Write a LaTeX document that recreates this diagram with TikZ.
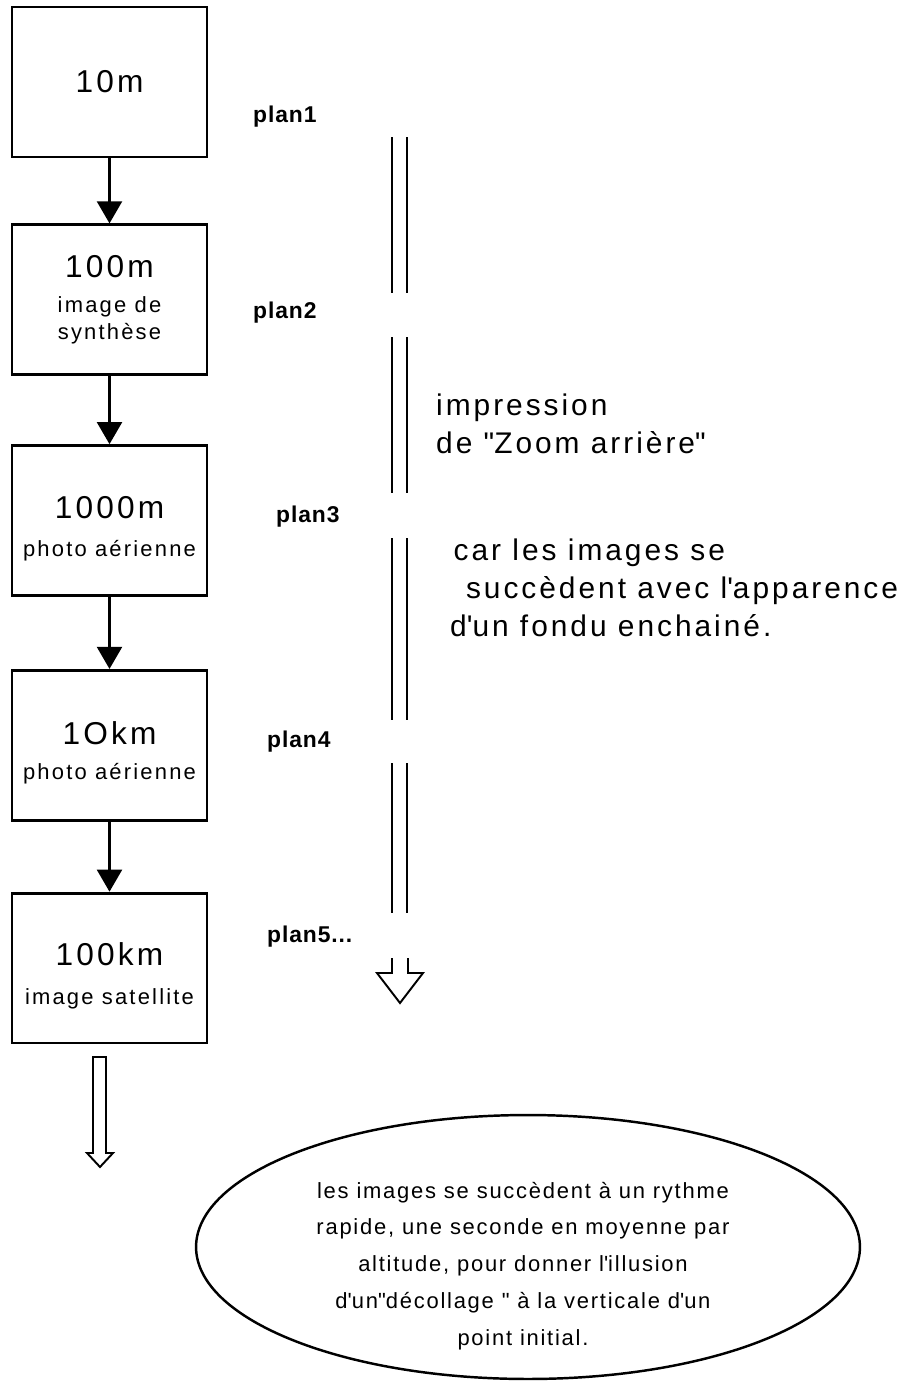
\documentclass[tikz,border=0pt]{standalone}
\usepackage{fontspec}
\setmainfont{Liberation Sans}[LetterSpace=10]
\usepackage{tikz}
\usetikzlibrary{arrows.meta,positioning,shapes.geometric}

\newcommand\altfont{\fontsize{18}{21}\selectfont}
\newcommand\legfont{\fontsize{12.5}{15}\selectfont}
\newcommand\alt[1]{{\altfont\rule{0pt}{22pt}#1}}

\begin{document}
\begin{tikzpicture}[
  x=0.02cm, y=-0.02cm,
  stage/.style={draw, line width=1.6pt, minimum width=3.9cm,
                minimum height=3cm, inner sep=0pt, align=center, font=\legfont},
  plan/.style={font=\fontsize{13}{15}\selectfont\bfseries\addfontfeature{LetterSpace=4},
               anchor=west},
  flow/.style={-{Triangle[width=0.5cm,length=0.44cm]}, line width=1.2pt},
  rail/.style={line width=1.1pt},
  hollow/.style={line width=1.1pt, line join=miter},
  remark/.style={font=\fontsize{17}{21.5}\selectfont, align=left, anchor=west},
  bubble/.style={draw, ellipse, line width=1.4pt, minimum width=13.28cm,
                 minimum height=5.28cm},
  note/.style={font=\fontsize{12.5}{21}\selectfont\addfontfeature{LetterSpace=8},
               align=center},
]
\useasboundingbox (0,0) rectangle (912,1383);

% altitude stages
\node[stage] (m10) at (109.5,82) {{\altfont 10m}};
\node[stage, below=1.3cm of m10] (m100)
  {{\altfont 100m}\\[5pt]image de\\synthèse};
\node[stage, below=1.36cm of m100] (m1000)
  {\alt{1000m}\\[7pt]photo aérienne};
\node[stage, below=1.44cm of m1000] (km10)
  {\alt{1Okm}\\[5pt]photo aérienne};
\node[stage, below=1.4cm of km10] (km100)
  {\alt{100km}\\[7pt]image satellite};

\draw[flow] (m10) -- (m100);
\draw[flow] (m100) -- (m1000);
\draw[flow] (m1000) -- (km10);
\draw[flow] (km10) -- (km100);

\draw[hollow] (93,1057) -- (93,1153) -- (87,1153) -- (100,1167)
  -- (113,1153) -- (106,1153) -- (106,1057) -- cycle;

% shots
\node[plan] (p1) at (247,117) {plan1};
\node[plan] (p2) at (247,313) {plan2};
\node[plan] (p3) at (270,517) {plan3};
\node[plan] (p4) at (261,742) {plan4};
\node[plan] (p5) at (261,937) {plan5...};

\foreach \a/\b in {137/293, 337/493, 538/720, 763/913} {
  \draw[rail] (392,\a) -- (392,\b);
  \draw[rail] (407,\a) -- (407,\b);
}
\draw[hollow] (392,958) -- (392,973) -- (377,973) -- (400,1003)
  -- (423,973) -- (408,973) -- (408,958);

\node[remark] (zoom) at (430,424)
  {impression\\de \textquotedbl Zoom arrière\textquotedbl};
\node[remark] (fondu) at (444,588)
  {\hspace{2pt}car les images se\\\hspace{9pt}succèdent avec
   l\textquotesingle apparence\\d\textquotesingle un fondu enchainé.};

% rhythm
\node[bubble] (oval) at (528,1247) {};
\node[note] (illusion) at (523,1266)
  {les images se succèdent à un rythme\\rapide, une seconde en moyenne par\\
   altitude, pour donner l\textquotesingle illusion\\
   d\textquotesingle un\textquotedbl décollage \textquotedbl\ à la verticale
   d\textquotesingle un\\point initial.};
\end{tikzpicture}
\end{document}
